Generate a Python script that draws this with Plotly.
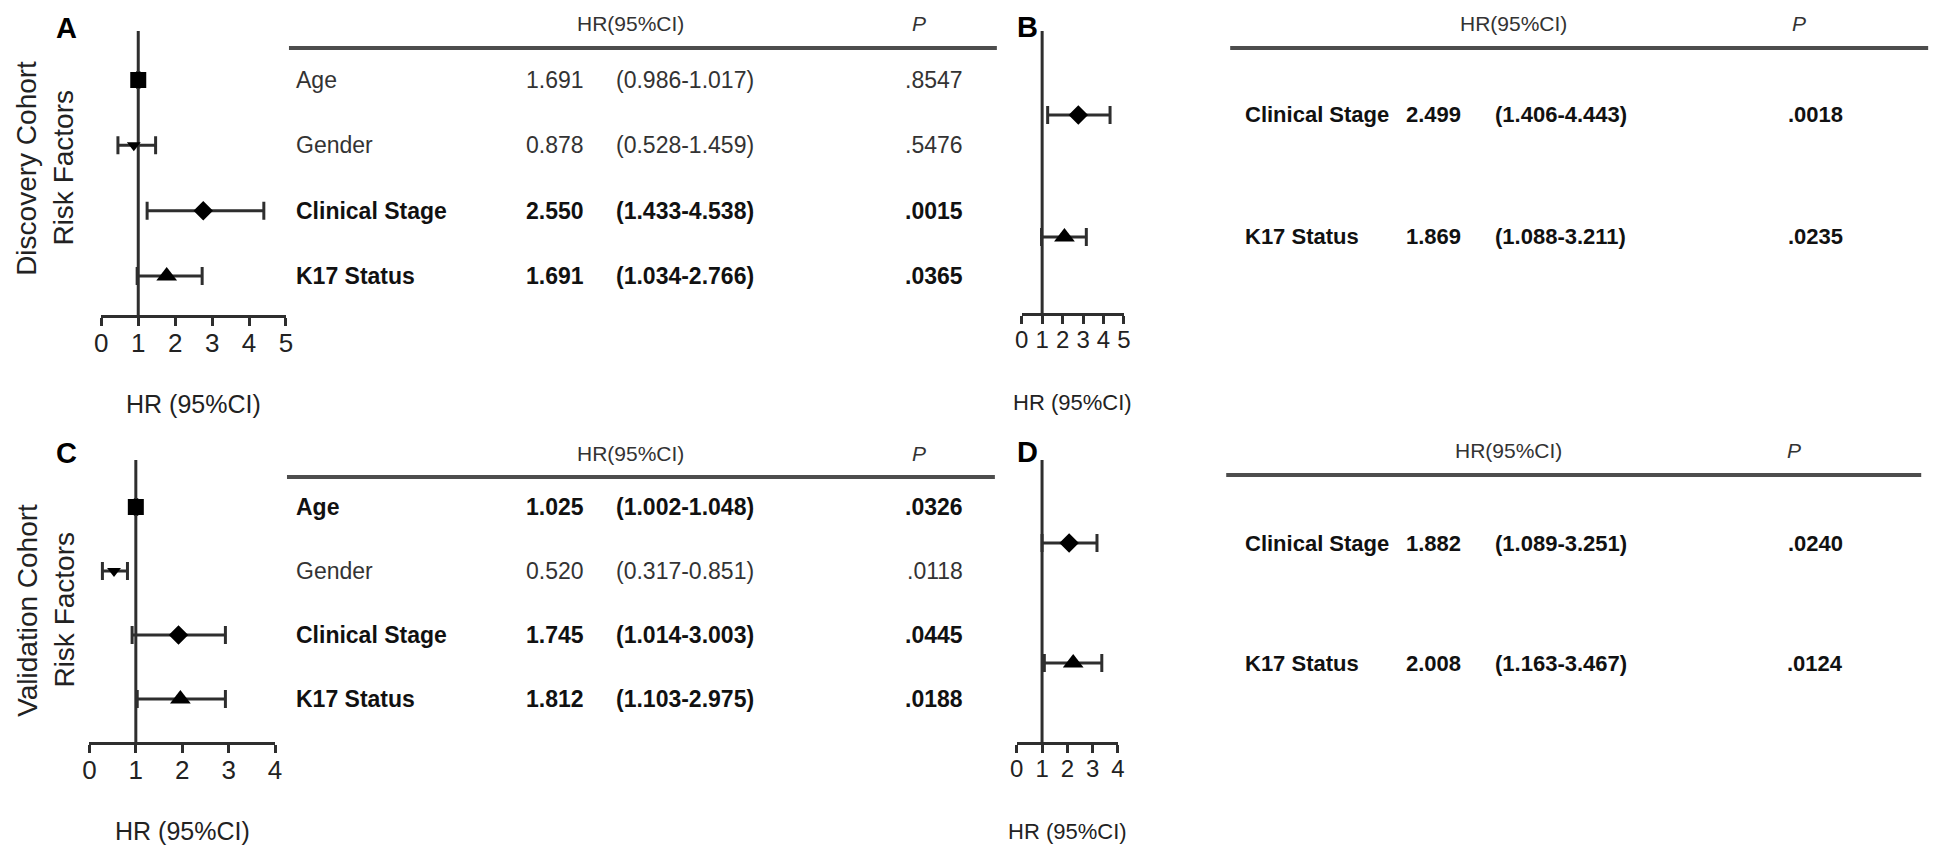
import plotly.graph_objects as go

W, H = 1958, 860

# ---------------- data ----------------
A_factors = ["Age", "Gender", "Clinical Stage", "K17 Status"]
A_hr = [1.0, 0.88, 2.76, 1.77]
A_lo = [0.986, 0.45, 1.24, 0.97]
A_hi = [1.017, 1.47, 4.40, 2.73]
A_hr_txt = ["1.691", "0.878", "2.550", "1.691"]
A_ci_txt = ["(0.986-1.017)", "(0.528-1.459)", "(1.433-4.538)", "(1.034-2.766)"]
A_p_txt = [".8547", ".5476", ".0015", ".0365"]
A_bold = [False, False, True, True]

B_factors = ["Clinical Stage", "K17 Status"]
B_hr = [2.77, 2.09]
B_lo = [1.27, 0.97]
B_hi = [4.32, 3.16]
B_hr_txt = ["2.499", "1.869"]
B_ci_txt = ["(1.406-4.443)", "(1.088-3.211)"]
B_p_txt = [".0018", ".0235"]
B_bold = [True, True]

C_factors = ["Age", "Gender", "Clinical Stage", "K17 Status"]
C_hr = [1.0, 0.53, 1.92, 1.96]
C_lo = [0.99, 0.28, 0.92, 1.03]
C_hi = [1.02, 0.82, 2.93, 2.93]
C_hr_txt = ["1.025", "0.520", "1.745", "1.812"]
C_ci_txt = ["(1.002-1.048)", "(0.317-0.851)", "(1.014-3.003)", "(1.103-2.975)"]
C_p_txt = [".0326", ".0118", ".0445", ".0188"]
C_bold = [True, False, True, True]

D_factors = ["Clinical Stage", "K17 Status"]
D_hr = [2.07, 2.23]
D_lo = [1.00, 1.09]
D_hi = [3.17, 3.36]
D_hr_txt = ["1.882", "2.008"]
D_ci_txt = ["(1.089-3.251)", "(1.163-3.467)"]
D_p_txt = [".0240", ".0124"]
D_bold = [True, True]

Y_TITLES = [("Discovery Cohort", "Risk Factors"), ("Validation Cohort", "Risk Factors")]
X_TITLE = "HR (95%CI)"
HEAD_HR = "HR(95%CI)"
HEAD_P = "P"

SYMBOLS = {"Age": "square", "Gender": "triangle-down",
           "Clinical Stage": "diamond", "K17 Status": "triangle-up"}
MSIZE = {"Age": 16, "Gender": 12, "Clinical Stage": 15, "K17 Status": 18}

FONT = "Liberation Sans, Arial, sans-serif"
LINE = "#2e2e2e"


def px(x):
    return x / W


def py(y):
    return 1 - y / H


panels = [
    dict(key="A", f=A_factors, hr=A_hr, lo=A_lo, hi=A_hi, hrt=A_hr_txt, cit=A_ci_txt,
         pt=A_p_txt, bold=A_bold, xd=(95, 281), yd=(31, 315), xmax=5, rows=(80, 276),
         letter=(60, 28), fs=23, tfs=26, xtfs=25,
         tab=dict(line=(284, 997), liney=48, head=628, headp=919, heady=23,
                  lab=289, hr=583, ci=611, p=965)),
    dict(key="B", f=B_factors, hr=B_hr, lo=B_lo, hi=B_hi, hrt=B_hr_txt, cit=B_ci_txt,
         pt=B_p_txt, bold=B_bold, xd=(1022, 1125), yd=(31, 313), xmax=5, rows=(115, 237),
         letter=(1028, 27), fs=22, tfs=24, xtfs=22,
         tab=dict(line=(1232, 1935), liney=48, head=1517, headp=1805, heady=23,
                  lab=1245, hr=1466, ci=1497, p=1851)),
    dict(key="C", f=C_factors, hr=C_hr, lo=C_lo, hi=C_hi, hrt=C_hr_txt, cit=C_ci_txt,
         pt=C_p_txt, bold=C_bold, xd=(83, 270), yd=(460, 742), xmax=4, rows=(507, 699),
         letter=(60, 453), fs=23, tfs=26, xtfs=25,
         tab=dict(line=(282, 995), liney=477, head=628, headp=919, heady=453,
                  lab=289, hr=583, ci=611, p=965)),
    dict(key="D", f=D_factors, hr=D_hr, lo=D_lo, hi=D_hi, hrt=D_hr_txt, cit=D_ci_txt,
         pt=D_p_txt, bold=D_bold, xd=(1017, 1119), yd=(460, 742), xmax=4, rows=(543, 663),
         letter=(1028, 452), fs=22, tfs=24, xtfs=22,
         tab=dict(line=(1228, 1928), liney=475, head=1512, headp=1800, heady=451,
                  lab=1245, hr=1466, ci=1497, p=1851)),
]

fig = go.Figure()
annotations = []
shapes = []
layout_axes = {}

for i, P in enumerate(panels, start=1):
    xa = "x" if i == 1 else f"x{i}"
    ya = "y" if i == 1 else f"y{i}"
    xl = "xaxis" if i == 1 else f"xaxis{i}"
    yl = "yaxis" if i == 1 else f"yaxis{i}"
    n = len(P["f"])
    top_px, bot_px = P["yd"]
    r0, r1 = P["rows"]
    step = (r1 - r0) / (n - 1)
    y_top = -(r0 - top_px) / step
    y_bot = (n - 1) + (bot_px - r1) / step

    for j, name in enumerate(P["f"]):
        fig.add_trace(go.Scatter(
            x=[P["hr"][j]], y=[j], xaxis=xa, yaxis=ya, mode="markers",
            marker=dict(symbol=SYMBOLS[name], size=MSIZE[name], color="#000000"),
            error_x=dict(type="data", symmetric=False,
                         array=[P["hi"][j] - P["hr"][j]],
                         arrayminus=[P["hr"][j] - P["lo"][j]],
                         color=LINE, thickness=3, width=9),
            showlegend=False, hoverinfo="skip"))

    layout_axes[xl] = dict(
        domain=[px(P["xd"][0]), px(P["xd"][1])], range=[0, P["xmax"]],
        anchor=ya, showline=True, linecolor=LINE, linewidth=3,
        ticks="outside", ticklen=8, tickwidth=3, tickcolor=LINE,
        tickmode="array", tickvals=list(range(P["xmax"] + 1)),
        ticklabelstandoff=-5,
        showgrid=False, zeroline=False,
        tickfont=dict(family=FONT, size=P["tfs"], color="#222"),
        fixedrange=True)
    layout_axes[yl] = dict(
        domain=[py(bot_px), py(top_px)], range=[y_bot, y_top], anchor=xa,
        visible=False, fixedrange=True)

    annotations.append(dict(text=X_TITLE, xref=f"{xa} domain", yref="paper", x=0.5,
                            y=py(bot_px + 89), xanchor="center", yanchor="middle",
                            showarrow=False,
                            font=dict(family=FONT, size=P["xtfs"], color="#222")))

    shapes.append(dict(type="line", xref=xa, yref=f"{ya} domain", x0=1, x1=1, y0=0, y1=1,
                       line=dict(color=LINE, width=3), layer="below"))

    annotations.append(dict(text=f"<b>{P['key']}</b>", xref="paper", yref="paper",
                            x=px(P["letter"][0]), y=py(P["letter"][1]),
                            xanchor="center", yanchor="middle", showarrow=False,
                            font=dict(family=FONT, size=29, color="#000")))

    T = P["tab"]
    shapes.append(dict(type="line", xref="paper", yref="paper",
                       x0=px(T["line"][0]), x1=px(T["line"][1]),
                       y0=py(T["liney"]), y1=py(T["liney"]),
                       line=dict(color="#4d4d4d", width=4)))
    annotations.append(dict(text=HEAD_HR, xref="paper", yref="paper",
                            x=px(T["head"]), y=py(T["heady"]), xanchor="center",
                            yanchor="middle", showarrow=False,
                            font=dict(family=FONT, size=21, color="#333")))
    annotations.append(dict(text=f"<i>{HEAD_P}</i>", xref="paper", yref="paper",
                            x=px(T["headp"]), y=py(T["heady"]), xanchor="center",
                            yanchor="middle", showarrow=False,
                            font=dict(family=FONT, size=21, color="#333")))

    for j in range(n):
        b = P["bold"][j]
        col = "#111" if b else "#333"

        def fmt(s, b=b):
            return f"<b>{s}</b>" if b else s
        fnt = dict(family=FONT, size=P["fs"], color=col)
        for txt, xpos, anc in [(P["f"][j], T["lab"], "left"), (P["hrt"][j], T["hr"], "right"),
                               (P["cit"][j], T["ci"], "left"), (P["pt"][j], T["p"], "right")]:
            annotations.append(dict(text=fmt(txt), xref="paper", yref=ya, x=px(xpos),
                                    y=j, xanchor=anc, yanchor="middle", showarrow=False,
                                    font=fnt))

for (line1, line2), cy in zip(Y_TITLES, [168, 610]):
    for txt, xx in [(line1, 20), (line2, 57)]:
        annotations.append(dict(text=txt, xref="paper", yref="paper", x=px(xx), y=py(cy),
                                xanchor="center", yanchor="middle",
                                textangle=-90, showarrow=False,
                                font=dict(family=FONT, size=28, color="#222")))

fig.update_layout(
    width=W, height=H, margin=dict(l=0, r=0, t=0, b=0),
    paper_bgcolor="white", plot_bgcolor="white",
    annotations=annotations, shapes=shapes, **layout_axes)

fig.write_html(
    "out.html",
    config={"displayModeBar": False, "staticPlot": True},
    post_script="document.body.style.margin='0';document.body.style.padding='0';"
                "document.body.style.overflow='hidden';")
